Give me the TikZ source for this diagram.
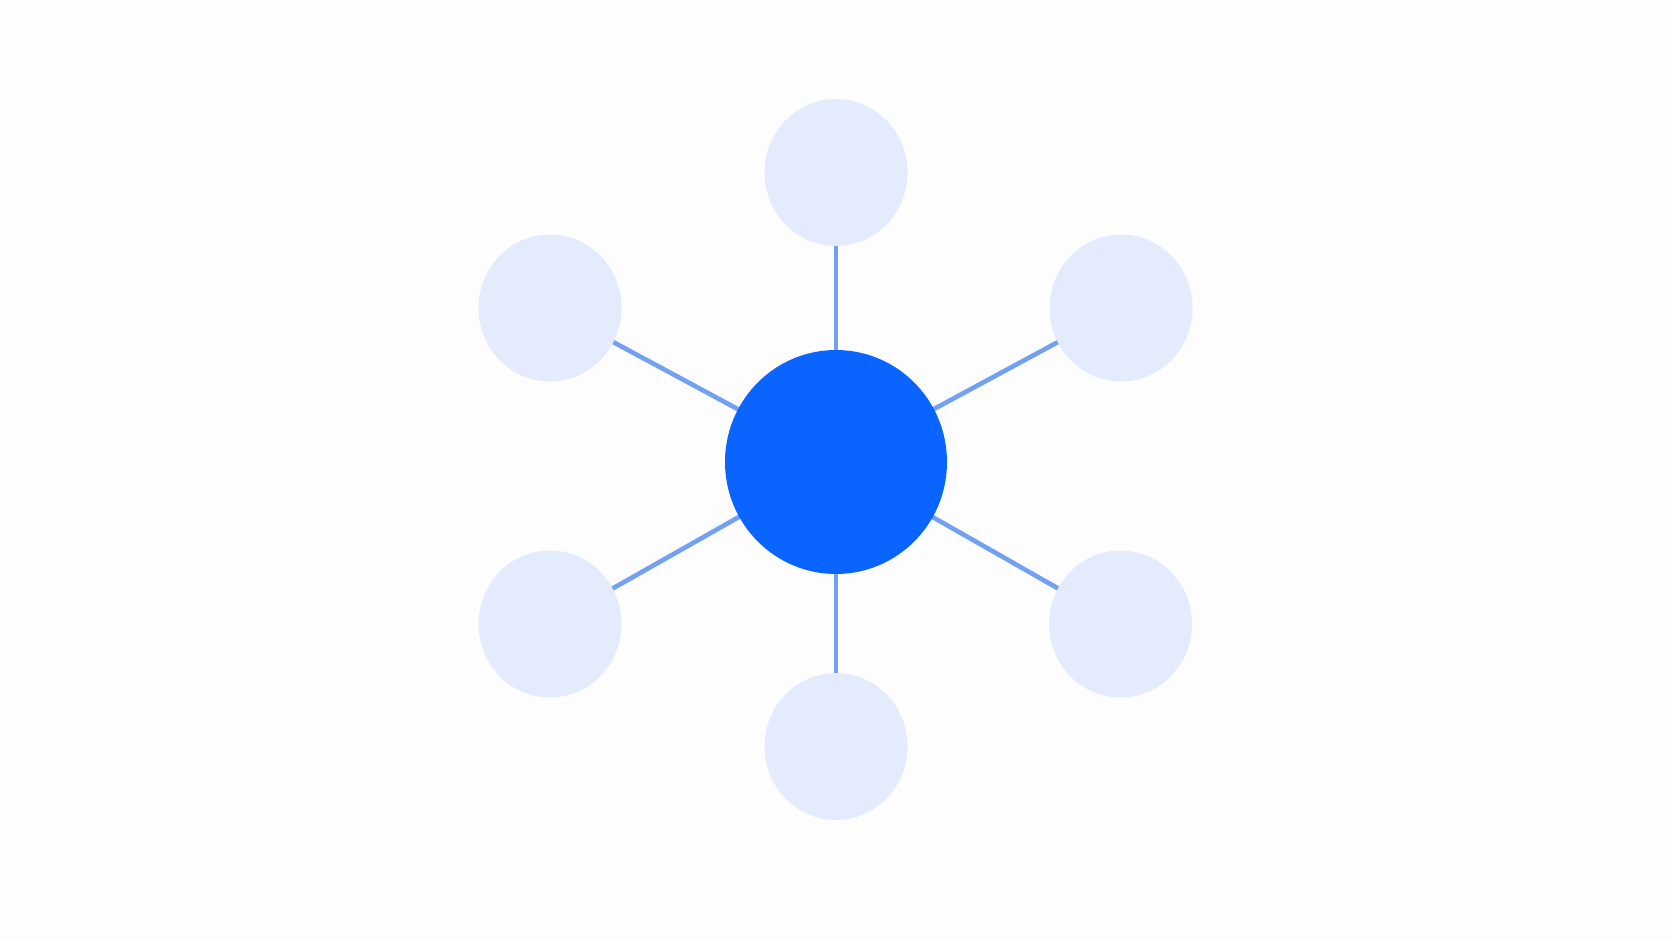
\documentclass[tikz,border=0pt]{standalone}
\usetikzlibrary{shapes.geometric}
\definecolor{bgc}{HTML}{FDFDFD}
\definecolor{hubc}{HTML}{0A64FF}
\definecolor{satc}{HTML}{E3EBFC}
\definecolor{linkc}{HTML}{72A0F2}
\tikzset{
  hub/.style={ellipse, fill=hubc, draw=none, minimum width=222pt, minimum height=224pt, inner sep=0pt},
  sat/.style={ellipse, fill=satc, draw=none, minimum width=143pt, minimum height=147pt, inner sep=0pt},
  link/.style={draw=linkc, line width=4.6pt}
}
\begin{document}
\begin{tikzpicture}[x=1pt,y=-1pt]
\fill[bgc] (0,0) rectangle (1672,941);
\useasboundingbox (0,0) rectangle (1672,941);
\coordinate (hc) at (836,462);
\coordinate (tc) at (836,172.5);
\coordinate (ulc) at (550,308);
\coordinate (urc) at (1121,308);
\coordinate (llc) at (550,624);
\coordinate (lrc) at (1120.5,624);
\coordinate (bc) at (836,746.5);
\draw[link] (hc) -- (tc);
\draw[link] (hc) -- (ulc);
\draw[link] (hc) -- (urc);
\draw[link] (hc) -- (llc);
\draw[link] (hc) -- (lrc);
\draw[link] (hc) -- (bc);
\node[hub] (hub) at (hc) {};
\node[sat] (t) at (tc) {};
\node[sat] (ul) at (ulc) {};
\node[sat] (ur) at (urc) {};
\node[sat] (ll) at (llc) {};
\node[sat] (lr) at (lrc) {};
\node[sat] (b) at (bc) {};
\end{tikzpicture}
\end{document}
